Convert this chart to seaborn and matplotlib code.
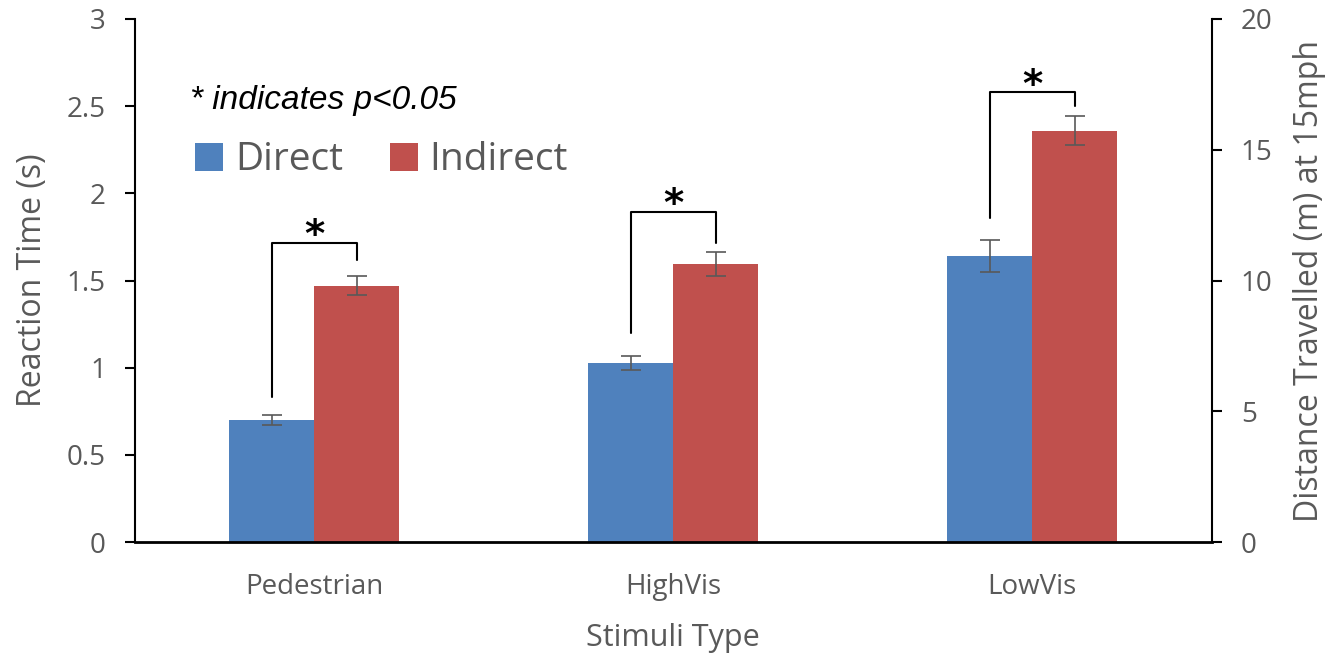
import matplotlib
matplotlib.use("Agg")
import matplotlib.pyplot as plt
import seaborn as sns
import pandas as pd
from matplotlib.patches import Patch

# ---- data ----
categories = ["Pedestrian", "HighVis", "LowVis"]
conditions = ["Direct", "Indirect"]
direct_rt = [0.70, 1.03, 1.64]
indirect_rt = [1.47, 1.595, 2.36]
direct_err = [0.03, 0.04, 0.09]
indirect_err = [0.055, 0.07, 0.085]
# significance brackets: (left foot, right foot, top) in seconds
bracket_left = [0.83, 1.20, 1.86]
bracket_right = [1.62, 1.715, 2.50]
bracket_top = [1.715, 1.893, 2.58]
y_left_ticks = [0, 0.5, 1, 1.5, 2, 2.5, 3]
y_left_labels = ["0", "0.5", "1", "1.5", "2", "2.5", "3"]
y_right_ticks = [0, 5, 10, 15, 20]

colors = {"Direct": "#4F81BD", "Indirect": "#C0504D"}
grey = "#595959"

sns.set_theme(style="white")
plt.rcParams["font.family"] = ["Open Sans", "DejaVu Sans"]

df = pd.DataFrame({
    "Stimuli": categories * 2,
    "Condition": ["Direct"] * 3 + ["Indirect"] * 3,
    "RT": direct_rt + indirect_rt,
})

fig = plt.figure(figsize=(13.3, 6.54), dpi=100)
ax = fig.add_axes([0.1015, 0.171, 0.8095, 0.800])

sns.barplot(data=df, x="Stimuli", y="RT", hue="Condition", order=categories,
            hue_order=conditions, palette=colors, width=0.474, errorbar=None,
            saturation=1, ax=ax, legend=False, linewidth=0)

errs = {"Direct": direct_err, "Indirect": indirect_err}
vals = {"Direct": direct_rt, "Indirect": indirect_rt}
centers = {}
for cont, cond in zip(ax.containers, conditions):
    xs = [p.get_x() + p.get_width() / 2 for p in cont.patches]
    centers[cond] = xs
    ax.errorbar(xs, vals[cond], yerr=errs[cond], fmt="none", ecolor=grey,
                elinewidth=1.2, capsize=7, capthick=1.2, zorder=3)

# brackets and stars
for i in range(len(categories)):
    xl = centers["Direct"][i]
    xr = centers["Indirect"][i]
    ax.plot([xl, xl, xr, xr], [bracket_left[i], bracket_top[i], bracket_top[i], bracket_right[i]],
            color="black", lw=1.5, zorder=4)
    ax.text((xl + xr) / 2, bracket_top[i] - 0.025, "*", ha="center", va="baseline",
            fontsize=28, fontweight="bold", color="black", family="DejaVu Sans")

ax.set_xlim(-0.5, 2.5)
ax.set_ylim(0, 3)
ax.set_yticks(y_left_ticks)
ax.set_yticklabels(y_left_labels)
ax.set_xlabel("Stimuli Type", fontsize=22, color=grey, labelpad=16)
ax.set_ylabel("Reaction Time (s)", fontsize=23, color=grey, labelpad=13)

ax.tick_params(axis="y", which="both", left=True, direction="out", length=7, width=1.5,
               color="black", labelsize=20, labelcolor=grey, pad=14)
ax.tick_params(axis="x", length=0, labelsize=20, labelcolor=grey, pad=22)

for s in ["top", "right"]:
    ax.spines[s].set_visible(False)
ax.spines["left"].set_color("black")
ax.spines["left"].set_linewidth(1.5)
ax.spines["bottom"].set_color("black")
ax.spines["bottom"].set_linewidth(2)

ax2 = ax.twinx()
ax2.set_ylim(0, 20)
ax2.set_yticks(y_right_ticks)
ax2.set_ylabel("Distance Travelled (m) at 15mph", fontsize=23, color=grey, labelpad=15)
ax2.tick_params(axis="y", right=True, direction="out", length=7, width=1.5, color="black",
                labelsize=20, labelcolor=grey, pad=14)
for s in ["top", "left", "bottom"]:
    ax2.spines[s].set_visible(False)
ax2.spines["right"].set_color("black")
ax2.spines["right"].set_linewidth(1.5)
ax2.grid(False)

# legend
handles = [Patch(facecolor=colors[c], edgecolor="none", label=c) for c in conditions]
ax.legend(handles=handles, ncol=2, frameon=False, loc="center left",
          bbox_to_anchor=(0.056, 0.73), borderaxespad=0, borderpad=0,
          fontsize=28, handlelength=0.72, handleheight=0.72, handletextpad=0.3,
          columnspacing=1.2, labelcolor=grey)

ax.text(0.051, 0.845, "* indicates p<0.05", transform=ax.transAxes, ha="left", va="center",
        fontsize=24, style="italic", color="black", family="Liberation Sans")

fig.savefig("out.png", dpi=100)
